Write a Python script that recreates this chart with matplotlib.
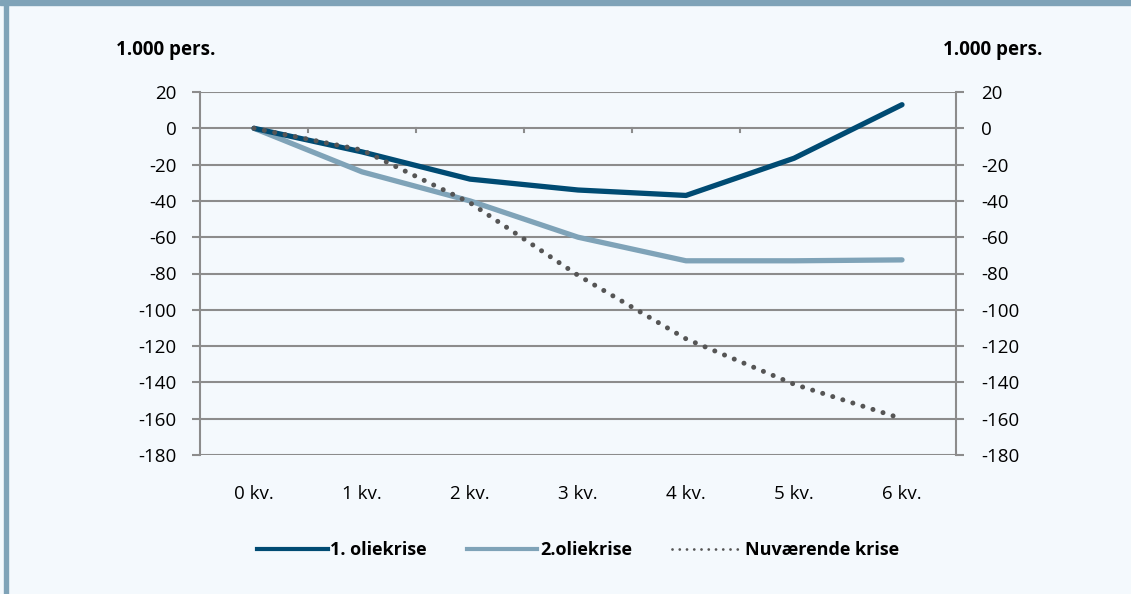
import matplotlib.pyplot as plt
from matplotlib.patches import Rectangle
from matplotlib.lines import Line2D

quarters = ['0 kv.', '1 kv.', '2 kv.', '3 kv.', '4 kv.', '5 kv.', '6 kv.']
olie1 = [0, -13, -28, -34, -37, -16.5, 13]
olie2 = [0, -24, -40, -60, -73, -73, -72.5]
nu = [0, -12, -41, -81, -116, -141, -160]
yticks = list(range(-180, 21, 20))

bg = '#f4f9fd'
navy = '#004b73'
steel = '#7fa3b8'
grid = '#8c8c8c'
dots = '#555555'

plt.rcParams['font.family'] = ['Open Sans', 'DejaVu Sans']

fig = plt.figure(figsize=(11.31, 5.94), dpi=100, facecolor=bg)
ax = fig.add_axes([200 / 1131, 1 - 455 / 594, 756 / 1131, 363 / 594])
ax.set_facecolor(bg)

x = range(len(quarters))
ax.plot(x, olie1, color=navy, lw=3.8, zorder=3, solid_capstyle='round')
ax.plot(x, olie2, color=steel, lw=3.8, zorder=2, solid_capstyle='round')
ax.plot(x, nu, color=dots, lw=3.6, linestyle=(0, (0.01, 2.1)), dash_capstyle='round', zorder=4)

ax.set_xlim(-0.5, 6.5)
ax.set_ylim(-180, 20)
ax.set_yticks(yticks)
ax.set_yticklabels([str(v) for v in yticks], fontsize=13.5)
for v in yticks:
    ax.axhline(v, color=grid, lw=1.5, zorder=1)

# category axis crosses at zero, ticks between categories
ax.set_xticks([])
for b in [i + 0.5 for i in range(len(quarters) - 1)]:
    ax.plot([b, b], [0, -2.2], color=grid, lw=1.5, zorder=1)
for i, q in enumerate(quarters):
    ax.text(i, -201.5, q, ha='center', va='center', fontsize=13.5, clip_on=False)

for s in ['top', 'bottom']:
    ax.spines[s].set_visible(False)
for s in ['left', 'right']:
    ax.spines[s].set_color(grid)
    ax.spines[s].set_linewidth(1.5)
ax.tick_params(axis='y', length=6, width=1.5, color=grid, pad=11)

ax2 = ax.twinx()
ax2.set_ylim(-180, 20)
ax2.set_yticks(yticks)
ax2.set_yticklabels([str(v) for v in yticks], fontsize=13.5)
for s in ax2.spines.values():
    s.set_visible(False)
ax2.tick_params(axis='y', length=6, width=1.5, color=grid, pad=12)

fig.text(116 / 1131, 1 - 50 / 594, '1.000 pers.', fontsize=13.5, fontweight='bold', va='center')
fig.text(943 / 1131, 1 - 50 / 594, '1.000 pers.', fontsize=13.5, fontweight='bold', va='center')

handles = [Line2D([], [], color=navy, lw=3),
           Line2D([], [], color=steel, lw=3),
           Line2D([], [], color=dots, lw=2, linestyle=(0, (0.01, 2.6)), dash_capstyle='round')]
labels = ['1. oliekrise', '2.oliekrise', 'Nuværende krise']
fig.legend(handles, labels, loc='center', bbox_to_anchor=(578 / 1131, 1 - 550 / 594), ncol=3,
           frameon=False, prop={'weight': 'bold', 'size': 13}, handlelength=3.9,
           handletextpad=0.15, columnspacing=2.2)

fig.patches.append(Rectangle((0, 1 - 5 / 594), 1, 5 / 594, transform=fig.transFigure,
                             color=steel, zorder=10))
fig.patches.append(Rectangle((4 / 1131, 0), 4 / 1131, 1, transform=fig.transFigure,
                             color=steel, zorder=10))

fig.savefig('out.png', dpi=100, facecolor=bg)
